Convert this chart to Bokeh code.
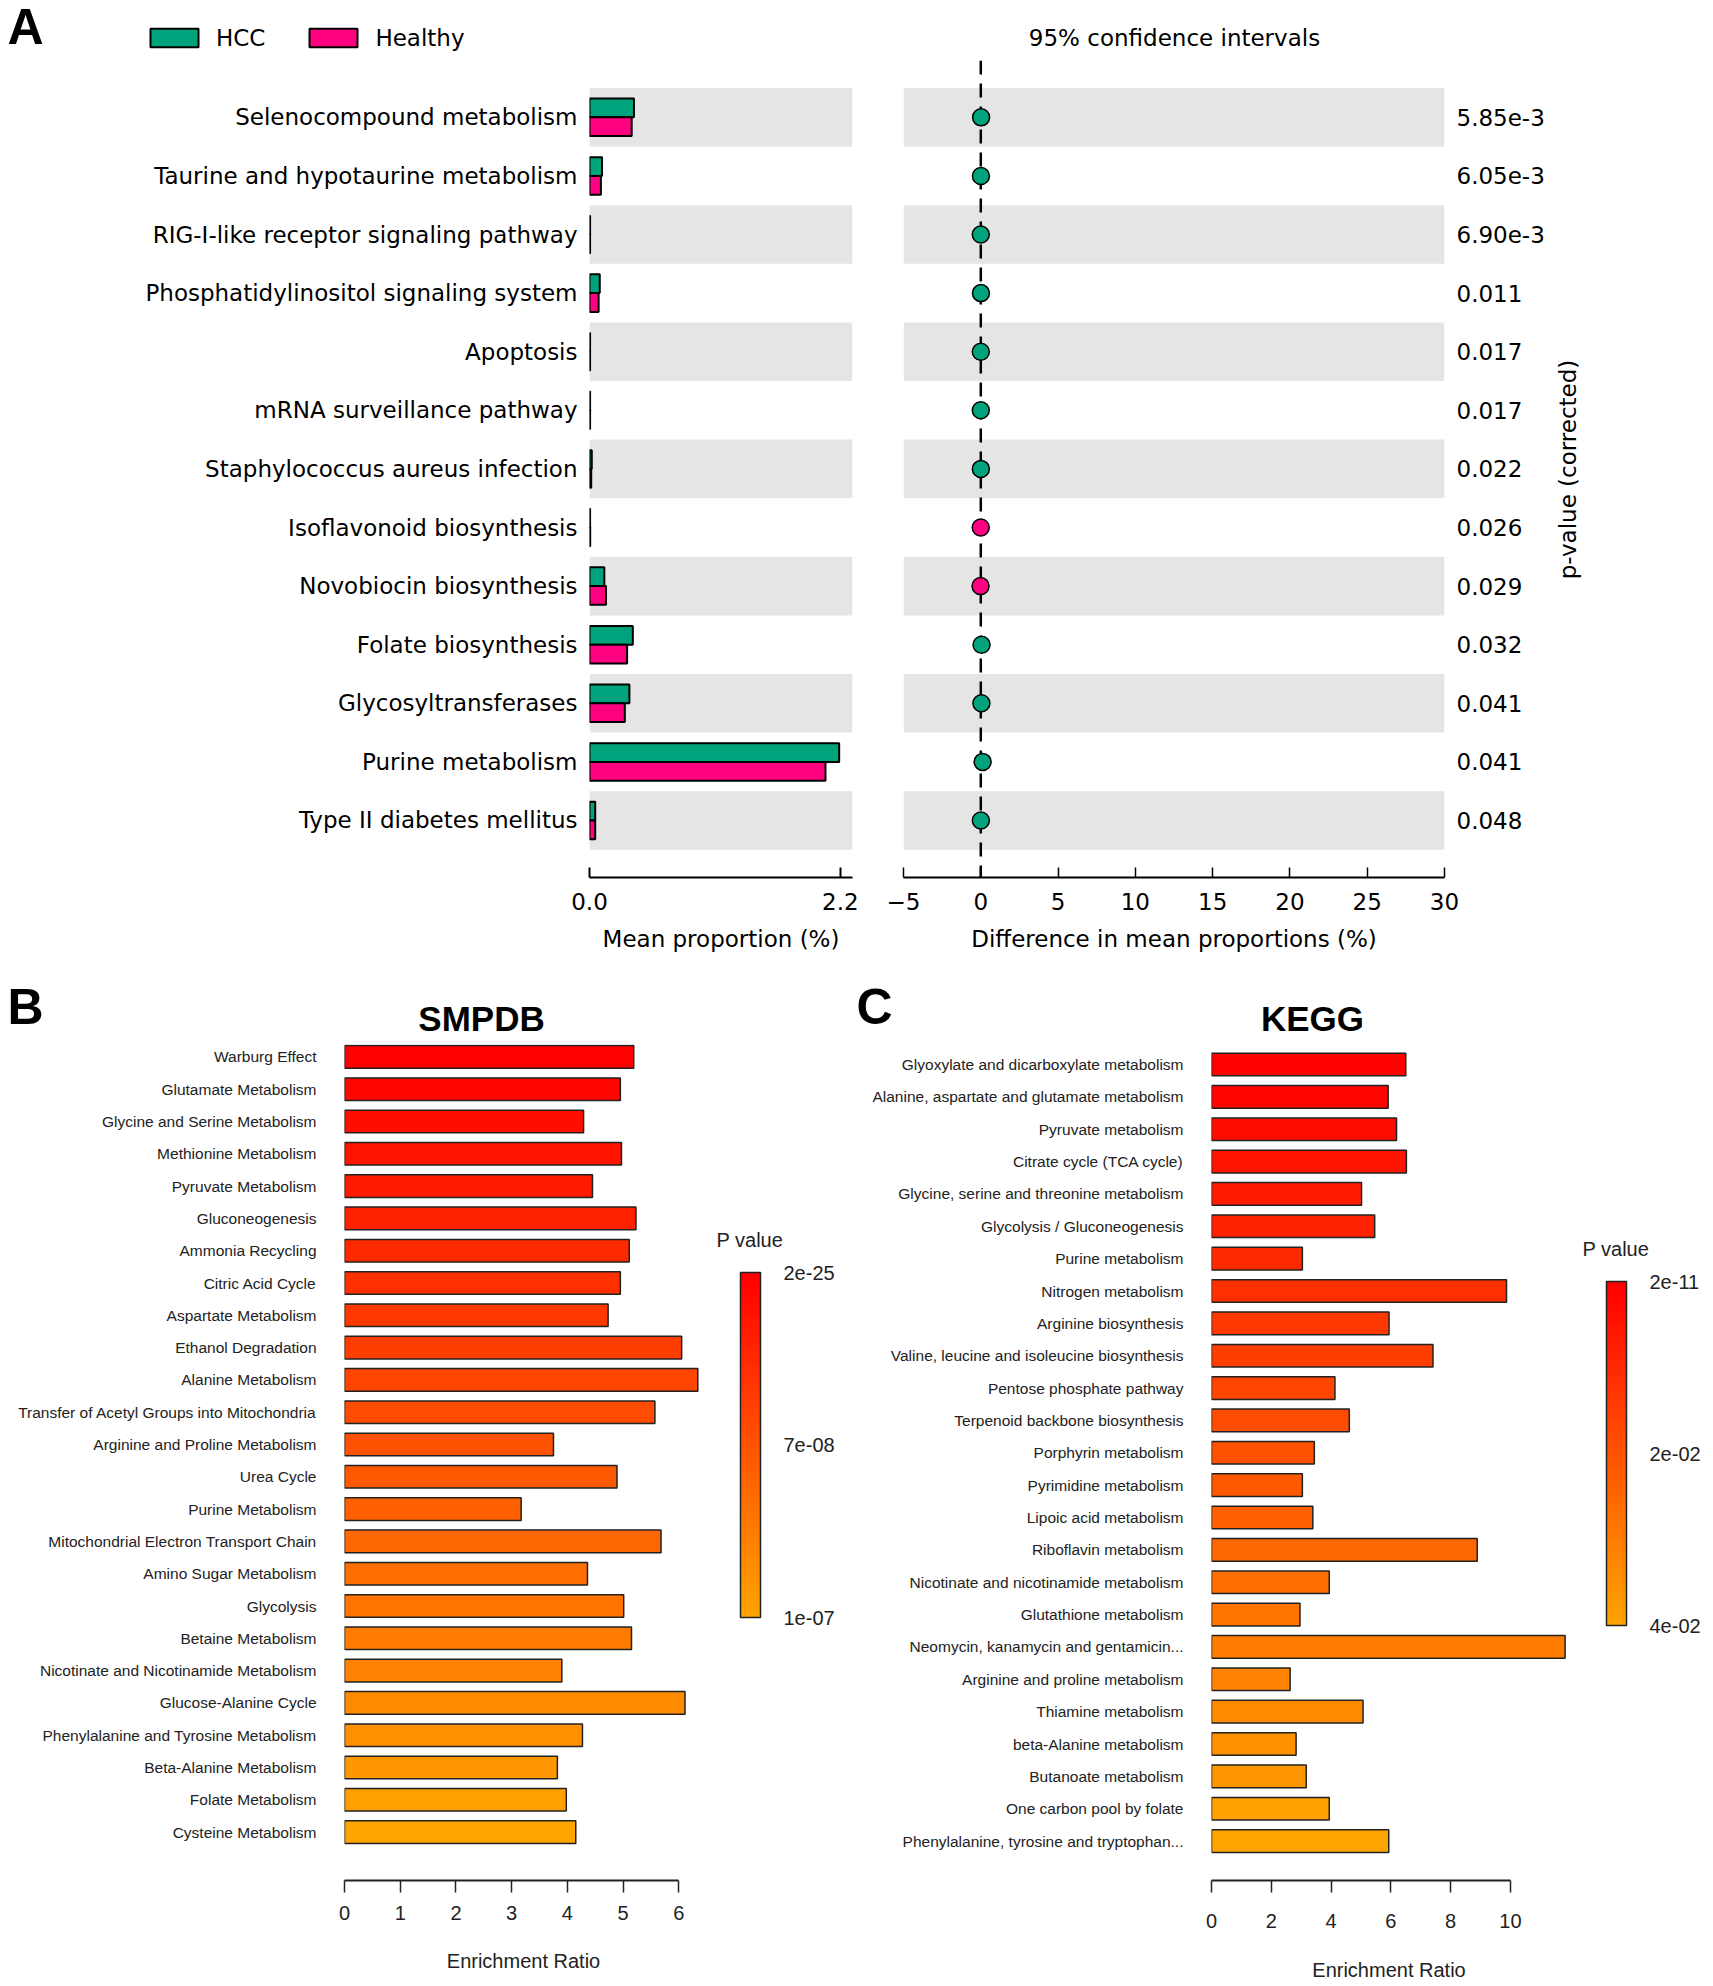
import math
from bokeh.plotting import figure
from bokeh.models import (Range1d, FixedTicker, BoxAnnotation, Span, Legend, LegendItem, Label,
                          ColorBar, LinearColorMapper, ColumnDataSource, NumeralTickFormatter)
from bokeh.layouts import row, column
from bokeh.embed import file_html
from bokeh.resources import INLINE

# ---------------- Panel A data ----------------
a_pathways = ["Selenocompound metabolism", "Taurine and hypotaurine metabolism",
              "RIG-I-like receptor signaling pathway", "Phosphatidylinositol signaling system",
              "Apoptosis", "mRNA surveillance pathway", "Staphylococcus aureus infection",
              "Isoflavonoid biosynthesis", "Novobiocin biosynthesis", "Folate biosynthesis",
              "Glycosyltransferases", "Purine metabolism", "Type II diabetes mellitus"]
a_hcc = [0.39, 0.11, 0.005, 0.09, 0.005, 0.005, 0.02, 0.005, 0.13, 0.38, 0.35, 2.19, 0.05]
a_healthy = [0.37, 0.10, 0.005, 0.08, 0.005, 0.005, 0.015, 0.006, 0.145, 0.33, 0.31, 2.07, 0.05]
a_diff = [0.02, 0.01, 0.0, 0.01, 0.0, 0.0, 0.005, -0.002, -0.015, 0.05, 0.04, 0.12, 0.005]
a_ci_low = [0.0, 0.0, -0.01, 0.0, -0.01, -0.01, 0.0, -0.01, -0.03, 0.01, 0.01, 0.05, 0.0]
a_ci_high = [0.04, 0.02, 0.01, 0.02, 0.01, 0.01, 0.01, 0.0, 0.0, 0.09, 0.07, 0.19, 0.01]
a_pvalues = ["5.85e-3", "6.05e-3", "6.90e-3", "0.011", "0.017", "0.017", "0.022",
             "0.026", "0.029", "0.032", "0.041", "0.041", "0.048"]
a_mean_ticks = [0.0, 2.2]
a_diff_ticks = [-5, 0, 5, 10, 15, 20, 25, 30]
a_groups = ["HCC", "Healthy"]

# ---------------- Panel B data (SMPDB) ----------------
b_pathways = ["Warburg Effect", "Glutamate Metabolism", "Glycine and Serine Metabolism",
              "Methionine Metabolism", "Pyruvate Metabolism", "Gluconeogenesis",
              "Ammonia Recycling", "Citric Acid Cycle", "Aspartate Metabolism",
              "Ethanol Degradation", "Alanine Metabolism",
              "Transfer of Acetyl Groups into Mitochondria", "Arginine and Proline Metabolism",
              "Urea Cycle", "Purine Metabolism", "Mitochondrial Electron Transport Chain",
              "Amino Sugar Metabolism", "Glycolysis", "Betaine Metabolism",
              "Nicotinate and Nicotinamide Metabolism", "Glucose-Alanine Cycle",
              "Phenylalanine and Tyrosine Metabolism", "Beta-Alanine Metabolism",
              "Folate Metabolism", "Cysteine Metabolism"]
b_ratio = [5.19, 4.95, 4.29, 4.97, 4.45, 5.23, 5.11, 4.95, 4.73, 6.05, 6.34, 5.57, 3.75,
           4.89, 3.17, 5.68, 4.36, 5.01, 5.15, 3.90, 6.11, 4.27, 3.82, 3.98, 4.15]
b_cbar_labels = ["1e-07", "7e-08", "2e-25"]
b_ticks = [0, 1, 2, 3, 4, 5, 6]

# ---------------- Panel C data (KEGG) ----------------
c_pathways = ["Glyoxylate and dicarboxylate metabolism", "Alanine, aspartate and glutamate metabolism",
              "Pyruvate metabolism", "Citrate cycle (TCA cycle)",
              "Glycine, serine and threonine metabolism", "Glycolysis / Gluconeogenesis",
              "Purine metabolism", "Nitrogen metabolism", "Arginine biosynthesis",
              "Valine, leucine and isoleucine biosynthesis", "Pentose phosphate pathway",
              "Terpenoid backbone biosynthesis", "Porphyrin metabolism", "Pyrimidine metabolism",
              "Lipoic acid metabolism", "Riboflavin metabolism",
              "Nicotinate and nicotinamide metabolism", "Glutathione metabolism",
              "Neomycin, kanamycin and gentamicin...", "Arginine and proline metabolism",
              "Thiamine metabolism", "beta-Alanine metabolism", "Butanoate metabolism",
              "One carbon pool by folate", "Phenylalanine, tyrosine and tryptophan..."]
c_ratio = [6.50, 5.91, 6.19, 6.52, 5.02, 5.46, 3.04, 9.87, 5.94, 7.41, 4.13, 4.61, 3.44,
           3.04, 3.39, 8.89, 3.94, 2.96, 11.83, 2.63, 5.07, 2.83, 3.17, 3.94, 5.93]
c_cbar_labels = ["4e-02", "2e-02", "2e-11"]
c_ticks = [0, 2, 4, 6, 8, 10]

GREEN = "#00A37B"
PINK = "#FF0080"
BAND = "#E5E5E5"
DJ = "DejaVu Sans"
LS = "Liberation Sans"
TXT = "#222222"


def clean(p):
    p.grid.visible = False
    p.outline_line_color = None
    p.background_fill_color = "white"
    p.border_fill_color = "white"


def blank(width, height, **kw):
    p = figure(width=width, height=height, x_range=Range1d(0, 1), y_range=Range1d(0, 1),
               output_backend="svg", toolbar_location=None, title=None,
               x_axis_location=None, y_axis_location=None, **kw)
    clean(p)
    return p


# ======================= Header of panel A =======================
hA = blank(1713, 60, min_border=0)
proxy = ColumnDataSource(dict(y=[0.5], r=[0.5]))
d_hcc = hA.hbar(y="y", right="r", left=0, height=0.3, fill_color=GREEN, line_color="black",
                line_width=2, source=proxy, visible=False)
d_hl = hA.hbar(y="y", right="r", left=0, height=0.3, fill_color=PINK, line_color="black",
               line_width=2, source=proxy, visible=False)
legA = Legend(items=[LegendItem(label=a_groups[0], renderers=[d_hcc]),
                     LegendItem(label=a_groups[1], renderers=[d_hl])],
              orientation="horizontal", location=(144, 9), glyph_width=60, glyph_height=23,
              label_height=27, label_standoff=12, spacing=38, padding=0, margin=0,
              border_line_color=None, background_fill_alpha=0, label_text_font=DJ,
              label_text_font_size="23px", label_text_color="black",
              inactive_fill_alpha=0)
hA.add_layout(legA, "center")
hA.add_layout(Label(x=7, y=34, x_units="screen", y_units="screen", text="A",
                    text_font=LS, text_font_size="50px", text_font_style="bold",
                    text_baseline="middle", text_color="black"))
hA.add_layout(Label(x=1174, y=23, x_units="screen", y_units="screen",
                    text="95% confidence intervals", text_font=DJ, text_font_size="23px",
                    text_align="center", text_baseline="middle", text_color="black"))

# ======================= Panel A (left: mean proportion) =======================
n_a = len(a_pathways)
ys_a = [n_a - 1 - i for i in range(n_a)]
yr = (-0.973, 12.97)

pA1 = figure(width=877, height=908, x_range=Range1d(0, 2.307), y_range=Range1d(*yr),
             output_backend="svg", toolbar_location=None, title=None,
             min_border_left=589, min_border_right=25, min_border_top=0, min_border_bottom=91)
clean(pA1)
for i, y in enumerate(ys_a):
    if i % 2 == 0:
        pA1.add_layout(BoxAnnotation(bottom=y - 0.5, top=y + 0.5, fill_color=BAND, fill_alpha=1,
                                     line_color=None, level="underlay"))
srcA = ColumnDataSource(dict(y_h=[y + 0.16 for y in ys_a], y_n=[y - 0.16 for y in ys_a],
                             hcc=a_hcc, healthy=a_healthy))
pA1.hbar(y="y_h", left=0, right="hcc", height=0.32, fill_color=GREEN,
         line_color="black", line_width=2, source=srcA)
pA1.hbar(y="y_n", left=0, right="healthy", height=0.32, fill_color=PINK,
         line_color="black", line_width=2, source=srcA)

xa = pA1.xaxis[0]
xa.ticker = FixedTicker(ticks=a_mean_ticks)
xa.formatter = NumeralTickFormatter(format="0.0")
xa.major_tick_in = 10
xa.major_tick_out = 0
xa.minor_tick_line_color = None
xa.axis_line_width = 2
xa.major_tick_line_width = 2
xa.major_label_standoff = 15
xa.major_label_text_font = DJ
xa.major_label_text_font_size = "23px"
xa.major_label_text_color = "black"
xa.axis_label = "Mean proportion (%)"
xa.axis_label_text_font = DJ
xa.axis_label_text_font_size = "23px"
xa.axis_label_text_font_style = "normal"
xa.axis_label_text_color = "black"
xa.axis_label_standoff = 13

ya = pA1.yaxis[0]
ya.ticker = FixedTicker(ticks=ys_a)
ya.major_label_overrides = {y: name for y, name in zip(ys_a, a_pathways)}
ya.axis_line_color = None
ya.major_tick_line_color = None
ya.minor_tick_line_color = None
ya.major_label_standoff = 6
ya.major_label_text_font = DJ
ya.major_label_text_font_size = "23px"
ya.major_label_text_color = "black"

# ======================= Panel A (right: confidence intervals) =======================
pA2 = figure(width=675, height=908, x_range=Range1d(-5, 30), y_range=Range1d(*yr),
             output_backend="svg", toolbar_location=None, title=None,
             y_axis_location="right",
             min_border_left=26, min_border_right=108, min_border_top=0, min_border_bottom=91)
clean(pA2)
for i, y in enumerate(ys_a):
    if i % 2 == 0:
        pA2.add_layout(BoxAnnotation(bottom=y - 0.5, top=y + 0.5, fill_color=BAND, fill_alpha=1,
                                     line_color=None, level="underlay"))
pA2.add_layout(Span(location=0, dimension="height", line_color="black", line_width=2.5,
                    line_dash="14 9", level="underlay"))
srcCI = ColumnDataSource(dict(y=ys_a, diff=a_diff, lo=a_ci_low, hi=a_ci_high,
                              col=[GREEN if d >= 0 else PINK for d in a_diff]))
pA2.segment(x0="lo", y0="y", x1="hi", y1="y", line_color="black", line_width=2, source=srcCI)
pA2.scatter(x="diff", y="y", size=17, fill_color="col", line_color="black", line_width=1.5,
            source=srcCI)

xb = pA2.xaxis[0]
xb.ticker = FixedTicker(ticks=a_diff_ticks)
xb.major_label_overrides = {-5: "\u22125"}
xb.major_tick_in = 10
xb.major_tick_out = 0
xb.minor_tick_line_color = None
xb.axis_line_width = 2
xb.major_tick_line_width = 1.5
xb.major_label_standoff = 15
xb.major_label_text_font = DJ
xb.major_label_text_font_size = "23px"
xb.major_label_text_color = "black"
xb.axis_label = "Difference in mean proportions (%)"
xb.axis_label_text_font = DJ
xb.axis_label_text_font_size = "23px"
xb.axis_label_text_font_style = "normal"
xb.axis_label_text_color = "black"
xb.axis_label_standoff = 13

yb = pA2.yaxis[0]
yb.ticker = FixedTicker(ticks=ys_a)
yb.major_label_overrides = {y: pv for y, pv in zip(ys_a, a_pvalues)}
yb.axis_line_color = None
yb.major_tick_line_color = None
yb.minor_tick_line_color = None
yb.major_label_standoff = 6
yb.major_label_text_font = DJ
yb.major_label_text_font_size = "23px"
yb.major_label_text_color = "black"

# rotated axis title for the p-values (frame shares top/bottom with the panels beside it)
pA3 = blank(161, 908, min_border_left=0, min_border_right=0, min_border_top=0,
            min_border_bottom=91)
pA3.add_layout(Label(x=15, y=408, x_units="screen", y_units="screen",
                     text="p-value (corrected)", text_font=DJ, text_font_size="23px",
                     angle=math.pi / 2, text_align="center", text_baseline="middle",
                     text_color="black"))

# ======================= Header of panels B and C =======================
hB = blank(1713, 76, min_border=0)
for txt, xx, yy, size, align in [("B", 7, 38, "50px", "left"), ("SMPDB", 481, 26, "35px", "center"),
                                 ("C", 856, 38, "50px", "left"), ("KEGG", 1312, 26, "35px", "center")]:
    hB.add_layout(Label(x=xx, y=yy, x_units="screen", y_units="screen", text=txt,
                        text_font=LS, text_font_size=size, text_font_style="bold",
                        text_align=align, text_baseline="middle", text_color="black"))

# ======================= Panels B and C =======================
PAL = ["#ff%02x00" % int(round(165 * (1 - i / 255))) for i in range(256)]
BOT = 106
H_BC = 942


def enrichment_panel(names, ratios, ticks, cbar_labels, width, x_end, y_lo, y_hi, mb_left,
                     cb_width, cb_loc, cb_h, pval_xy, tick_standoff, label_standoff):
    n = len(names)
    ys = [n - 1 - i for i in range(n)]
    sig = [n - 1 - i for i in range(n)]
    p = figure(width=width, height=H_BC, x_range=Range1d(0, x_end), y_range=Range1d(y_lo, y_hi),
               output_backend="svg", toolbar_location=None, title=None,
               min_border_left=mb_left, min_border_right=0, min_border_top=0,
               min_border_bottom=BOT)
    clean(p)
    mapper = LinearColorMapper(palette=PAL, low=0, high=n - 1)
    src = ColumnDataSource(dict(y=ys, r=ratios, s=sig))
    p.hbar(y="y", left=0, right="r", height=0.7, source=src,
           fill_color={"field": "s", "transform": mapper}, line_color=TXT, line_width=1.5)

    ax = p.xaxis[0]
    ax.ticker = FixedTicker(ticks=ticks)
    ax.bounds = (ticks[0], ticks[-1])
    ax.major_tick_in = 0
    ax.major_tick_out = 12
    ax.minor_tick_line_color = None
    ax.axis_line_width = 2
    ax.axis_line_color = TXT
    ax.major_tick_line_width = 1.5
    ax.major_tick_line_color = TXT
    ax.major_label_standoff = tick_standoff
    ax.major_label_text_font = LS
    ax.major_label_text_font_size = "20px"
    ax.major_label_text_color = TXT
    ax.axis_label = "Enrichment Ratio"
    ax.axis_label_text_font = LS
    ax.axis_label_text_font_size = "20px"
    ax.axis_label_text_font_style = "normal"
    ax.axis_label_text_color = TXT
    ax.axis_label_standoff = label_standoff

    ay = p.yaxis[0]
    ay.ticker = FixedTicker(ticks=ys)
    ay.major_label_overrides = {y: nm for y, nm in zip(ys, names)}
    ay.axis_line_color = None
    ay.major_tick_line_color = None
    ay.minor_tick_line_color = None
    ay.major_label_standoff = 22
    ay.major_label_text_font = LS
    ay.major_label_text_font_size = "15.5px"
    ay.major_label_text_color = TXT

    # colour legend in its own narrow strip to the right
    q = blank(cb_width, H_BC, min_border_left=0, min_border_right=0, min_border_top=0,
              min_border_bottom=BOT)
    cb = ColorBar(color_mapper=mapper, orientation="vertical", width=20, height=cb_h,
                  location=cb_loc, padding=0, margin=0,
                  ticker=FixedTicker(ticks=[0, (n - 1) / 2, n - 1]),
                  major_label_overrides={0: cbar_labels[0], (n - 1) / 2: cbar_labels[1],
                                         n - 1: cbar_labels[2]},
                  major_tick_line_color=None, minor_tick_line_color=None,
                  bar_line_color=TXT, bar_line_width=1.5, label_standoff=23,
                  major_label_text_font=LS, major_label_text_font_size="20px",
                  major_label_text_color=TXT, border_line_color=None,
                  background_fill_alpha=0)
    q.add_layout(cb, "center")
    q.add_layout(Label(x=pval_xy[0], y=pval_xy[1], x_units="screen", y_units="screen",
                       text="P value", text_font=LS, text_font_size="20px", text_color=TXT,
                       text_baseline="middle"))
    return p, q


pB, qB = enrichment_panel(b_pathways, b_ratio, b_ticks, b_cbar_labels,
                          width=702, x_end=6.424, y_lo=-1.498, y_hi=24.384, mb_left=344,
                          cb_width=148, cb_loc=(38, 263), cb_h=345, pval_xy=(14, 641),
                          tick_standoff=13, label_standoff=27)
pC, qC = enrichment_panel(c_pathways, c_ratio, c_ticks, c_cbar_labels,
                          width=716, x_end=11.877, y_lo=-1.218, y_hi=24.618, mb_left=361,
                          cb_width=147, cb_loc=(40, 255), cb_h=344, pval_xy=(16, 632),
                          tick_standoff=21, label_standoff=28)

layout = column(hA, row(pA1, pA2, pA3), hB, row(pB, qB, pC, qC))
open("out.html", "w").write(file_html(layout, INLINE))
